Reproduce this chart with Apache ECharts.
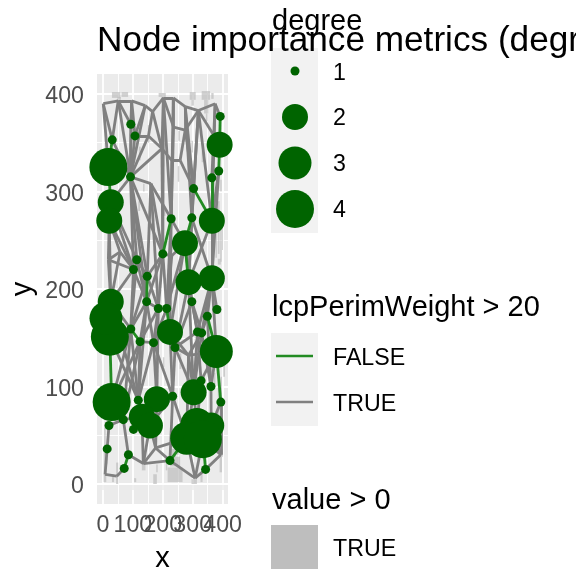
<!DOCTYPE html>
<html><head><meta charset="utf-8">
<style>html,body{margin:0;padding:0;background:#fff}#c{width:576px;height:569px}</style>
<script src="https://cdn.jsdelivr.net/npm/echarts@6/dist/echarts.min.js"></script>
</head><body><div id="c"></div>
<script>
const titleText = 'Node importance metrics (degree)';
const xTicks = [0,100,200,300,400];
const yTicks = [0,100,200,300,400];
const minorTicks = [50,150,250,350];
// network vertices: degree 0 = junction without a marker
const pointX = [392,93,107,31,390,18,92,387,364,303,26,21,228,297,364,274,200,113,102,148,286,364,146,26,297,185,213,381,349,93,23,10,224,316,330,124,169,241,379,29,180,303,328,361,233,118,394,68,20,130,157,102,314,362,280,334,14,85,71,224,343,
  1,51,96,141,166,202,235,275,319,375,152,197,236,275,230,258,160,18,57,230,286,7,46,135,176,308,394];
const pointY = [377,369,357,353,348,325,315,321,314,303,289,270,272,273,270,247,236,230,220,213,207,211,187,187,187,180,180,179,172,159,151,170,156,156,155,146,145,140,136,84,87,94,106,100,90,86,84,66,60,69,60,56,61,60,47,46,36,30,16,24,15,
  390,393,393,388,382,396,396,387,383,390,357,344,366,363,332,332,308,230,238,234,132,10,8,21,37,6,30];
const pointDegree = [1,1,1,1,2,4,1,1,1,1,2,2,1,1,2,2,1,1,1,1,2,2,1,2,1,1,1,1,1,1,4,3,2,1,1,1,1,1,3,4,2,2,1,1,1,1,1,1,1,2,2,1,3,2,3,4,1,1,1,1,1];
const grayEdges = [[61,62],[62,63],[63,64],[64,65],[65,66],[66,67],[67,68],[68,69],[69,70],[70,0],
 [61,3],[61,5],[62,3],[62,1],[62,6],[63,1],[63,2],[63,6],[64,2],[64,6],[65,71],[71,2],[71,6],[71,72],[65,72],[66,72],[66,73],[67,73],[66,12],[73,74],[68,74],[69,74],[74,9],[69,9],[70,8],[69,4],[69,14],[72,75],[75,76],[76,9],[75,12],[72,6],[74,76],[72,16],[6,77],[77,12],[77,16],[6,19],[6,18],[6,17],[6,10],[6,3],[1,6],[2,6],
 [11,78],[11,79],[11,18],[10,17],[78,79],[79,18],[78,18],[78,23],[79,23],[18,23],[18,22],[17,22],[17,19],[19,16],[16,80],[80,15],[16,25],[16,26],[80,26],[15,24],[20,24],[14,21],[14,20],[13,20],[21,28],[21,27],[24,33],[24,34],[20,33],[28,34],
 [35,36],[22,35],[22,36],[25,36],[25,22],[25,35],[24,37],[32,37],[29,45],[29,47],[35,47],[35,45],[36,40],[36,45],[36,44],[37,44],[37,41],[32,81],[81,34],[81,38],[81,41],[81,54],[44,54],[37,81],[33,42],[34,43],[33,41],[38,43],[38,42],[28,43],[23,29],[30,29],[22,29],[30,45],
 [48,56],[56,82],[82,83],[83,58],[57,47],[57,84],[84,59],[84,85],[85,59],[85,50],[84,50],[59,86],[86,60],[60,87],[87,46],[87,53],[59,44],[86,54],[86,55],[87,55],[85,40],
 [7,14],[66,16],[67,12],[73,12],[68,13],[69,13],[68,9],[70,14],[8,21],[7,21],[9,20],[12,15],[13,21],[10,18],[11,23],[6,22],[6,16],[77,19],[77,25],[12,26],[12,32],[15,26],[15,32],[20,37],[20,41],[21,33],[21,34],[21,38],[25,40],[22,45],[26,36],[26,37],[32,44],[33,37],[34,41],[23,45],[23,30],[35,39],[29,39],[45,49],[40,50],[44,50],[41,54],[41,52],[42,52],[43,53],[46,53],[47,49],[47,48],[49,84],[54,85],[55,53],[52,55],[16,22],[17,29],[18,29],[19,29],[19,25]];
const greenEdges = [[0,4],[4,7],[3,5],[5,10],[8,14],[9,14],[13,15],[12,16],[19,22],[30,39],[38,46],[28,38],[29,35],[26,32],[15,20],[54,59],[55,60],[58,57]];
// raster speckle cells [x, y, width, height] where value > 0
const rasterCells = [
 [30,396,28,6],[62,397,22,5],[48,394,12,3],[186,397,24,4],[196,394,12,3],[290,394,20,8],[296,388,8,6],[330,394,28,9],[338,380,14,14],[344,372,6,8],[362,395,8,6],
 [376,232,5,50],[384,236,6,54],[392,228,5,46],[398,240,3,30],[384,225,10,6],[378,286,6,10],[392,300,5,12],[330,330,6,12],[296,340,5,12],[250,310,5,16],[252,352,5,10],[150,350,5,18],[118,280,6,10],[112,264,4,12],[98,286,5,10],[134,300,5,8],
 [120,332,6,14],[40,285,5,16],[204,275,5,10],
 [72,112,14,8],[82,104,7,6],[168,140,7,14],[256,118,6,16],[248,150,5,10],[172,120,5,12],
 [384,60,6,50],[393,48,5,62],[370,100,6,14],[402,110,6,22],[340,140,6,10],[200,120,5,10],
 [2,2,9,36],[10,20,5,18],[30,2,7,8],[44,0,7,22],[4,38,5,20],[130,14,12,14],[168,0,12,10],[178,12,5,8],
 [216,2,50,15],[224,18,34,10],[230,28,14,8],[210,14,5,14],[246,30,7,8],[296,0,18,5],[326,2,7,10],[390,12,8,16],[396,28,5,8],[104,2,7,4]
];
const gridLeft=97,gridTop=74,gridW=131,gridH=430;
const sizeByDegree={1:9,2:26,3:33,4:38};
const pt=i=>[pointX[i],pointY[i]];
const toLine=e=>({coords:[pt(e[0]),pt(e[1])]});
const gridLines=(vals,w)=>({type:'lines',coordinateSystem:'cartesian2d',silent:true,z:1,
  lineStyle:{color:'#fff',width:w,opacity:1},
  data:[...vals.map(v=>({coords:[[v,-20.5],[v,420.5]]})),...vals.map(v=>({coords:[[-20,v],[418,v]]}))]});
const ft='"Liberation Sans",Arial,sans-serif';
const txt=(t,x,b,s,extra)=>({type:'text',x,y:b-0.78*s,silent:true,style:Object.assign({text:t,fill:'#000',font:s+'px '+ft},extra||{})});
const rect=(x,y,w,h,c)=>({type:'rect',shape:{x,y,width:w,height:h},silent:true,style:{fill:c}});
const line=(y,c)=>({type:'line',shape:{x1:276,y1:y,x2:313,y2:y},silent:true,style:{stroke:c,lineWidth:2.6}});
const circ=(y,d)=>({type:'circle',shape:{cx:295,cy:y,r:d/2},silent:true,style:{fill:'#006400'}});
const chart=echarts.init(document.getElementById('c'),null,{renderer:'canvas'});
const tickLabel=(vals,m,extra)=>Object.assign({customValues:vals,fontSize:23.2,color:'#4D4D4D',fontFamily:ft,margin:m,hideOverlap:false},extra||{});
const axisCommon={type:'value',nameLocation:'middle',
  nameTextStyle:{fontSize:29,color:'#000',fontFamily:ft},
  axisLine:{show:false},splitLine:{show:false}};
const xTickStyle={show:true,length:6,customValues:xTicks,lineStyle:{color:'#333',width:1.5}};
chart.setOption({
 animation:false,backgroundColor:'#fff',
 title:{text:titleText,left:97,top:24,padding:0,textStyle:{fontSize:35.2,fontWeight:'normal',color:'#000',fontFamily:ft}},
 grid:{left:gridLeft,top:gridTop,width:gridW,height:gridH,show:true,backgroundColor:'#EBEBEB',borderWidth:0,outerBoundsMode:'none',containLabel:false},
 xAxis:[
  Object.assign({},axisCommon,{min:-20,max:418,position:'bottom',name:'x',nameGap:40,axisTick:xTickStyle,
    axisLabel:tickLabel(xTicks.filter(v=>v!==300),10)}),
  Object.assign({},axisCommon,{min:-20,max:418,position:'bottom',axisTick:{show:false},
    axisLabel:tickLabel([300],10)})
 ],
 yAxis:Object.assign({},axisCommon,{min:-20.5,max:420.5,name:'y',nameGap:60,
   axisTick:{show:true,length:6,customValues:yTicks,lineStyle:{color:'#333',width:1.5}},
   axisLabel:tickLabel(yTicks,13,{verticalAlign:'top',lineHeight:6})}),
 series:[
  gridLines(minorTicks,0.9),
  gridLines(xTicks,1.8),
  {type:'custom',name:'value > 0',coordinateSystem:'cartesian2d',silent:true,z:2,clip:true,
   data:rasterCells,encode:{x:0,y:1},
   renderItem:(p,api)=>{const a=api.coord([api.value(0),api.value(1)+api.value(3)]),b=api.coord([api.value(0)+api.value(2),api.value(1)]);
     return {type:'rect',shape:{x:a[0],y:a[1],width:b[0]-a[0],height:b[1]-a[1]},style:{fill:'#BEBEBE',opacity:0.7}};}},
  {type:'lines',name:'TRUE',coordinateSystem:'cartesian2d',silent:true,z:3,lineStyle:{color:'#808080',width:2.8,opacity:1},data:grayEdges.map(toLine)},
  {type:'lines',name:'FALSE',coordinateSystem:'cartesian2d',silent:true,z:4,lineStyle:{color:'#228B22',width:2.8,opacity:1},data:greenEdges.map(toLine)},
  {type:'scatter',name:'degree',silent:true,z:5,clip:true,itemStyle:{color:'#006400',opacity:1},
   symbolSize:v=>sizeByDegree[v[2]],
   data:pointDegree.map((d,i)=>[pointX[i],pointY[i],d])}
 ],
 graphic:{elements:[
  rect(271,48,47,185,'#F2F2F2'),rect(271,333,47,93,'#F2F2F2'),rect(271,525,47,44,'#BEBEBE'),
  circ(71,9),circ(117,26),circ(163,33),circ(209,38),
  line(356,'#228B22'),line(402,'#808080'),
  txt('degree',272,30,29),txt('lcpPerimWeight > 20',272,316,29),txt('value > 0',272,509,29),
  txt('1',333,80,23.2),txt('2',333,125,23.2),txt('3',333,171,23.2),txt('4',333,217,23.2),
  txt('FALSE',333,365,23.2),txt('TRUE',333,411,23.2),txt('TRUE',333,556,23.2)
 ]}
});
</script></body></html>
